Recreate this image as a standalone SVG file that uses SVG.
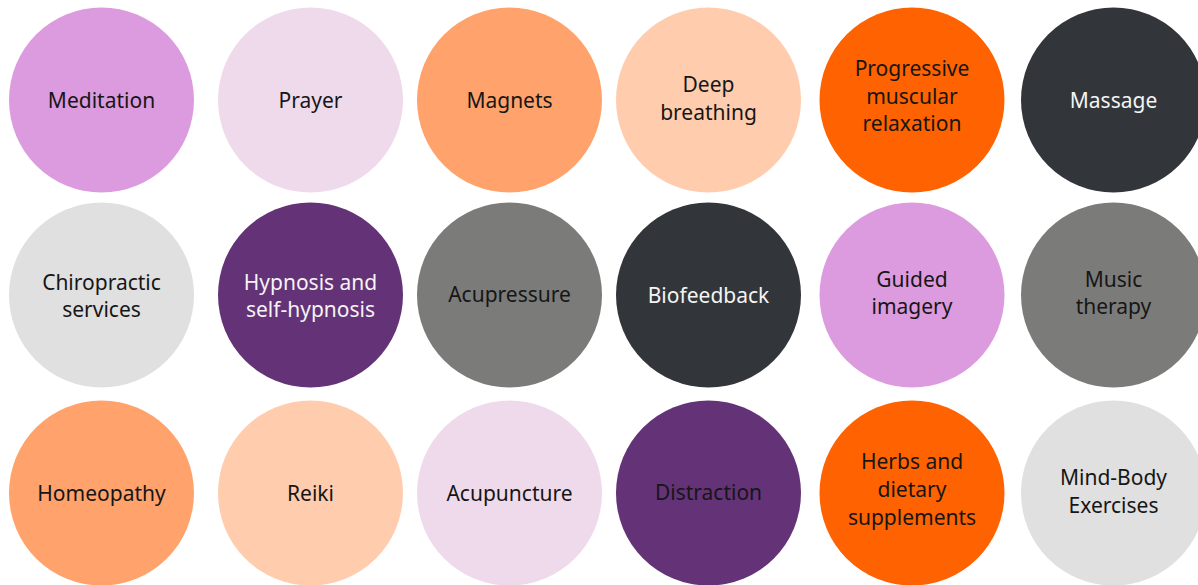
<svg xmlns="http://www.w3.org/2000/svg" width="1198" height="585" viewBox="0 0 1198 585">
<style>
text{font-family:"Noto Sans","Open Sans","Liberation Sans",sans-serif;font-size:21px;text-anchor:middle;fill:#161616}
.w{fill:#f4f4f4}
.pink{fill:#dc9bdf}.lilac{fill:#efdaec}.peach{fill:#ffa26b}.cream{fill:#ffccae}
.orange{fill:#ff6200}.dark{fill:#32363b}.lgray{fill:#e0e0e0}.purple{fill:#643277}.gray{fill:#7b7b7a}
</style>
<rect width="1198" height="585" fill="#ffffff"/>
<g id="connectors"/>
<g id="meditation"><circle class="pink" cx="101.5" cy="100" r="92.5"/><text x="101.5" y="107.5">Meditation</text></g>
<g id="prayer"><circle class="lilac" cx="310.5" cy="100" r="92.5"/><text x="310.5" y="107.5">Prayer</text></g>
<g id="magnets"><circle class="peach" cx="509.5" cy="100" r="92.5"/><text x="509.5" y="107.5">Magnets</text></g>
<g id="deep-breathing"><circle class="cream" cx="708.5" cy="100" r="92.5"/><text x="708.5" y="92">Deep</text><text x="708.5" y="120">breathing</text></g>
<g id="pmr"><circle class="orange" cx="912" cy="100" r="92.5"/><text x="912" y="76">Progressive</text><text x="912" y="103.5">muscular</text><text x="912" y="131">relaxation</text></g>
<g id="massage"><circle class="dark" cx="1113.5" cy="100" r="92.5"/><text class="w" x="1113.5" y="108">Massage</text></g>

<g id="chiropractic"><circle class="lgray" cx="101.5" cy="295" r="92.5"/><text x="101.5" y="289.5">Chiropractic</text><text x="101.5" y="317">services</text></g>
<g id="hypnosis"><circle class="purple" cx="310.5" cy="295" r="92.5"/><text class="w" x="310.5" y="289.5">Hypnosis and</text><text class="w" x="310.5" y="317">self-hypnosis</text></g>
<g id="acupressure"><circle class="gray" cx="509.5" cy="295" r="92.5"/><text x="509.5" y="302">Acupressure</text></g>
<g id="biofeedback"><circle class="dark" cx="708.5" cy="295" r="92.5"/><text class="w" x="708.5" y="303">Biofeedback</text></g>
<g id="guided-imagery"><circle class="pink" cx="912" cy="295" r="92.5"/><text x="912" y="287">Guided</text><text x="912" y="314">imagery</text></g>
<g id="music-therapy"><circle class="gray" cx="1113.5" cy="295" r="92.5"/><text x="1113.5" y="287">Music</text><text x="1113.5" y="314">therapy</text></g>

<g id="homeopathy"><circle class="peach" cx="101.5" cy="493" r="92.5"/><text x="101.5" y="500.5">Homeopathy</text></g>
<g id="reiki"><circle class="cream" cx="310.5" cy="493" r="92.5"/><text x="310.5" y="500.5">Reiki</text></g>
<g id="acupuncture"><circle class="lilac" cx="509.5" cy="493" r="92.5"/><text x="509.5" y="500.5">Acupuncture</text></g>
<g id="distraction"><circle class="purple" cx="708.5" cy="493" r="92.5"/><text x="708.5" y="499.5">Distraction</text></g>
<g id="herbs"><circle class="orange" cx="912" cy="493" r="92.5"/><text x="912" y="469">Herbs and</text><text x="912" y="497">dietary</text><text x="912" y="525">supplements</text></g>
<g id="mind-body"><circle class="lgray" cx="1113.5" cy="493" r="92.5"/><text x="1113.5" y="485">Mind-Body</text><text x="1113.5" y="513">Exercises</text></g>
</svg>
